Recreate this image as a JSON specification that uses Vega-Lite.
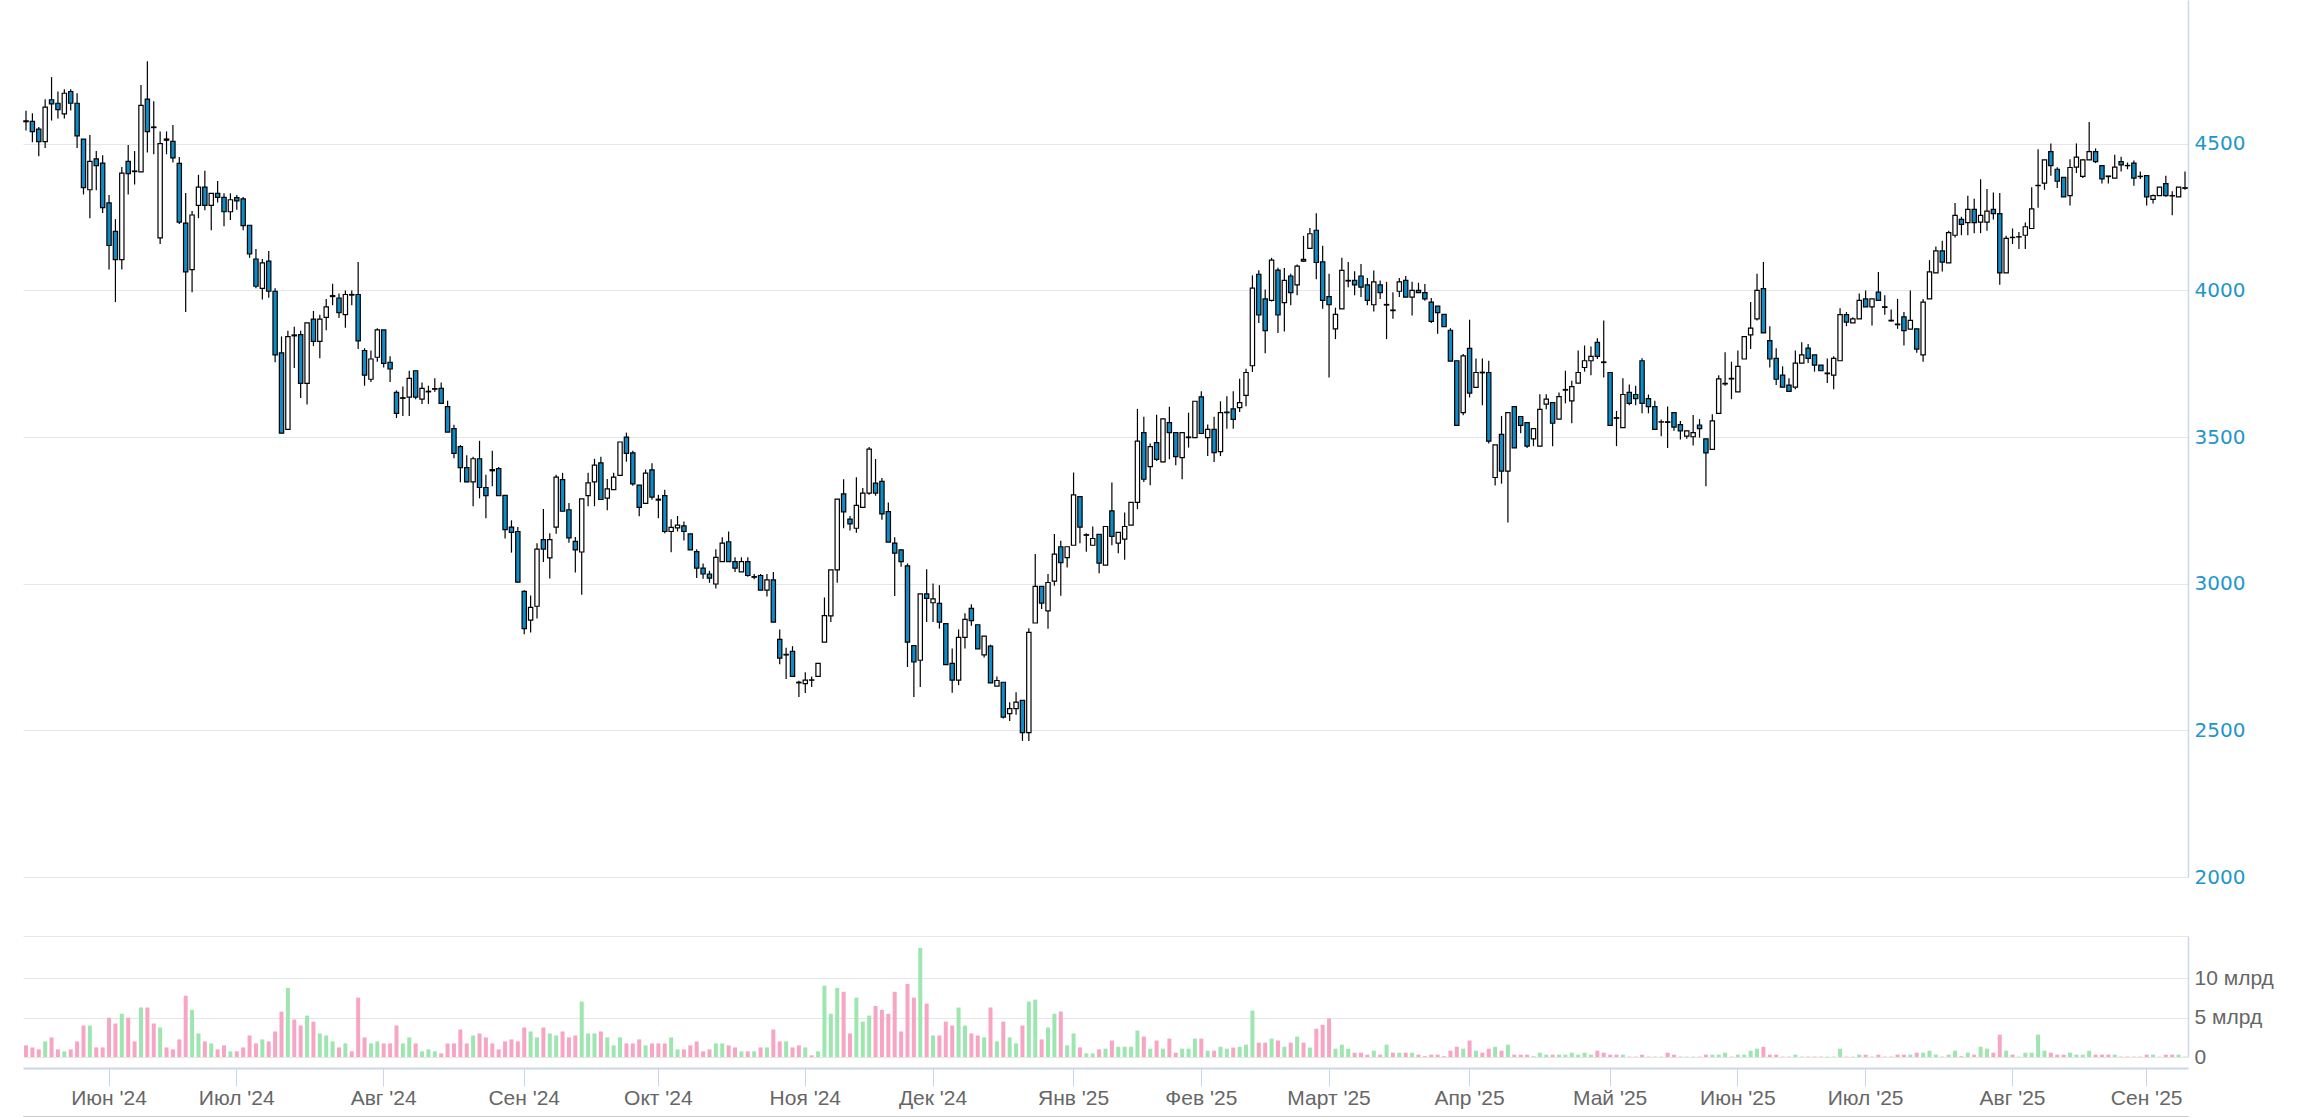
{
"$schema": "https://vega.github.io/schema/vega-lite/v6.json",
"padding": {"left": 22, "top": 0, "right": 0, "bottom": 0},
"background": "white",
"config": {"view": {"stroke": null}},
"bounds": "flush",
"spacing": 59,
"data": {"values": [
{"d":"2024-05-15","o":4578,"h":4612,"l":4545,"c":4575,"v":1.48},
{"d":"2024-05-16","o":4576,"h":4604,"l":4505,"c":4541,"v":1.22},
{"d":"2024-05-17","o":4550,"h":4557,"l":4457,"c":4507,"v":0.97},
{"d":"2024-05-20","o":4507,"h":4652,"l":4485,"c":4625,"v":1.98},
{"d":"2024-05-21","o":4650,"h":4727,"l":4579,"c":4636,"v":2.49},
{"d":"2024-05-22","o":4638,"h":4678,"l":4586,"c":4616,"v":0.97},
{"d":"2024-05-23","o":4602,"h":4686,"l":4586,"c":4672,"v":0.72},
{"d":"2024-05-24","o":4678,"h":4686,"l":4613,"c":4638,"v":0.97},
{"d":"2024-05-27","o":4638,"h":4672,"l":4485,"c":4527,"v":1.98},
{"d":"2024-05-28","o":4516,"h":4516,"l":4327,"c":4350,"v":4.0},
{"d":"2024-05-29","o":4343,"h":4530,"l":4246,"c":4440,"v":4.0},
{"d":"2024-05-30","o":4448,"h":4475,"l":4341,"c":4425,"v":1.22},
{"d":"2024-05-31","o":4434,"h":4461,"l":4264,"c":4282,"v":1.22},
{"d":"2024-06-03","o":4298,"h":4325,"l":4071,"c":4153,"v":5.0},
{"d":"2024-06-04","o":4201,"h":4243,"l":3960,"c":4105,"v":4.26},
{"d":"2024-06-05","o":4105,"h":4421,"l":4071,"c":4400,"v":5.5},
{"d":"2024-06-06","o":4440,"h":4496,"l":4327,"c":4398,"v":5.0},
{"d":"2024-06-07","o":4407,"h":4475,"l":4361,"c":4405,"v":1.98},
{"d":"2024-06-10","o":4404,"h":4700,"l":4404,"c":4631,"v":6.3},
{"d":"2024-06-11","o":4652,"h":4781,"l":4470,"c":4541,"v":6.3},
{"d":"2024-06-12","o":4557,"h":4645,"l":4464,"c":4555,"v":4.26},
{"d":"2024-06-13","o":4179,"h":4542,"l":4158,"c":4500,"v":3.75},
{"d":"2024-06-14","o":4516,"h":4542,"l":4464,"c":4512,"v":1.22},
{"d":"2024-06-17","o":4508,"h":4564,"l":4436,"c":4452,"v":0.97},
{"d":"2024-06-18","o":4433,"h":4455,"l":4226,"c":4233,"v":2.24},
{"d":"2024-06-19","o":4229,"h":4332,"l":3926,"c":4063,"v":7.8},
{"d":"2024-06-20","o":4071,"h":4271,"l":3994,"c":4257,"v":6.0},
{"d":"2024-06-21","o":4290,"h":4394,"l":4246,"c":4352,"v":3.0},
{"d":"2024-06-24","o":4352,"h":4408,"l":4273,"c":4290,"v":1.98},
{"d":"2024-06-25","o":4290,"h":4331,"l":4205,"c":4331,"v":1.73},
{"d":"2024-06-26","o":4331,"h":4373,"l":4300,"c":4317,"v":0.97},
{"d":"2024-06-27","o":4317,"h":4331,"l":4219,"c":4268,"v":1.48},
{"d":"2024-06-28","o":4268,"h":4331,"l":4240,"c":4309,"v":0.72},
{"d":"2024-07-01","o":4316,"h":4325,"l":4275,"c":4305,"v":0.72},
{"d":"2024-07-02","o":4312,"h":4318,"l":4205,"c":4221,"v":1.22},
{"d":"2024-07-03","o":4222,"h":4222,"l":4111,"c":4124,"v":2.74},
{"d":"2024-07-04","o":4107,"h":4141,"l":4007,"c":4014,"v":1.73},
{"d":"2024-07-05","o":4007,"h":4107,"l":3969,"c":4094,"v":2.24},
{"d":"2024-07-08","o":4100,"h":4134,"l":3975,"c":3997,"v":1.98},
{"d":"2024-07-09","o":3997,"h":4007,"l":3755,"c":3780,"v":3.25},
{"d":"2024-07-10","o":3787,"h":3843,"l":3513,"c":3513,"v":5.78},
{"d":"2024-07-11","o":3526,"h":3862,"l":3526,"c":3842,"v":8.8},
{"d":"2024-07-12","o":3848,"h":3876,"l":3735,"c":3845,"v":4.77},
{"d":"2024-07-15","o":3849,"h":3862,"l":3633,"c":3683,"v":4.0},
{"d":"2024-07-16","o":3683,"h":3889,"l":3611,"c":3889,"v":5.27},
{"d":"2024-07-17","o":3902,"h":3930,"l":3810,"c":3826,"v":4.5},
{"d":"2024-07-18","o":3826,"h":3917,"l":3769,"c":3902,"v":3.0},
{"d":"2024-07-19","o":3908,"h":3971,"l":3864,"c":3944,"v":2.74},
{"d":"2024-07-22","o":3979,"h":4023,"l":3949,"c":3982,"v":1.98},
{"d":"2024-07-23","o":3974,"h":3989,"l":3906,"c":3924,"v":1.22},
{"d":"2024-07-24","o":3917,"h":4000,"l":3873,"c":3986,"v":1.73},
{"d":"2024-07-25","o":3986,"h":4000,"l":3949,"c":3984,"v":0.72},
{"d":"2024-07-26","o":3986,"h":4097,"l":3800,"c":3828,"v":7.55},
{"d":"2024-07-29","o":3795,"h":3803,"l":3675,"c":3711,"v":2.49},
{"d":"2024-07-30","o":3697,"h":3795,"l":3688,"c":3766,"v":1.73},
{"d":"2024-07-31","o":3772,"h":3871,"l":3757,"c":3865,"v":1.98},
{"d":"2024-08-01","o":3865,"h":3865,"l":3737,"c":3751,"v":1.73},
{"d":"2024-08-02","o":3755,"h":3775,"l":3688,"c":3732,"v":1.73},
{"d":"2024-08-05","o":3652,"h":3659,"l":3565,"c":3581,"v":4.0},
{"d":"2024-08-06","o":3632,"h":3672,"l":3572,"c":3634,"v":1.73},
{"d":"2024-08-07","o":3636,"h":3726,"l":3572,"c":3700,"v":2.49},
{"d":"2024-08-08","o":3726,"h":3726,"l":3629,"c":3636,"v":1.73},
{"d":"2024-08-09","o":3629,"h":3686,"l":3613,"c":3666,"v":0.72},
{"d":"2024-08-12","o":3654,"h":3675,"l":3613,"c":3656,"v":0.97},
{"d":"2024-08-13","o":3663,"h":3700,"l":3654,"c":3665,"v":0.72},
{"d":"2024-08-14","o":3666,"h":3686,"l":3615,"c":3615,"v":0.46},
{"d":"2024-08-15","o":3604,"h":3624,"l":3517,"c":3517,"v":1.73},
{"d":"2024-08-16","o":3529,"h":3542,"l":3428,"c":3444,"v":1.73},
{"d":"2024-08-19","o":3467,"h":3473,"l":3346,"c":3396,"v":3.5},
{"d":"2024-08-20","o":3396,"h":3438,"l":3346,"c":3347,"v":1.73},
{"d":"2024-08-21","o":3347,"h":3433,"l":3264,"c":3426,"v":2.74},
{"d":"2024-08-22","o":3426,"h":3487,"l":3291,"c":3328,"v":3.0},
{"d":"2024-08-23","o":3328,"h":3371,"l":3223,"c":3300,"v":2.49},
{"d":"2024-08-26","o":3389,"h":3453,"l":3332,"c":3385,"v":1.73},
{"d":"2024-08-27","o":3392,"h":3398,"l":3300,"c":3300,"v":0.97},
{"d":"2024-08-28","o":3301,"h":3301,"l":3154,"c":3184,"v":1.98},
{"d":"2024-08-29","o":3193,"h":3216,"l":3106,"c":3175,"v":2.24},
{"d":"2024-08-30","o":3178,"h":3193,"l":3005,"c":3005,"v":1.98},
{"d":"2024-09-02","o":2974,"h":2978,"l":2828,"c":2847,"v":3.75},
{"d":"2024-09-03","o":2876,"h":2960,"l":2834,"c":2919,"v":3.25},
{"d":"2024-09-04","o":2923,"h":3138,"l":2881,"c":3118,"v":2.49},
{"d":"2024-09-05","o":3150,"h":3255,"l":3074,"c":3118,"v":3.75},
{"d":"2024-09-06","o":3088,"h":3172,"l":3018,"c":3150,"v":3.0},
{"d":"2024-09-09","o":3193,"h":3371,"l":3170,"c":3363,"v":2.74},
{"d":"2024-09-10","o":3355,"h":3378,"l":3247,"c":3247,"v":3.25},
{"d":"2024-09-11","o":3252,"h":3275,"l":3140,"c":3156,"v":2.49},
{"d":"2024-09-12","o":3144,"h":3159,"l":3038,"c":3115,"v":2.74},
{"d":"2024-09-13","o":3108,"h":3289,"l":2962,"c":3289,"v":7.05},
{"d":"2024-09-16","o":3300,"h":3378,"l":3264,"c":3344,"v":3.0},
{"d":"2024-09-17","o":3347,"h":3426,"l":3264,"c":3404,"v":3.0},
{"d":"2024-09-18","o":3412,"h":3433,"l":3287,"c":3287,"v":3.25},
{"d":"2024-09-19","o":3292,"h":3357,"l":3250,"c":3323,"v":2.49},
{"d":"2024-09-20","o":3321,"h":3378,"l":3321,"c":3363,"v":1.48},
{"d":"2024-09-23","o":3369,"h":3483,"l":3369,"c":3483,"v":2.49},
{"d":"2024-09-24","o":3500,"h":3515,"l":3416,"c":3444,"v":1.73},
{"d":"2024-09-25","o":3446,"h":3453,"l":3334,"c":3340,"v":1.73},
{"d":"2024-09-26","o":3336,"h":3336,"l":3230,"c":3260,"v":2.24},
{"d":"2024-09-27","o":3274,"h":3389,"l":3273,"c":3377,"v":1.48},
{"d":"2024-09-30","o":3388,"h":3411,"l":3286,"c":3295,"v":1.73},
{"d":"2024-10-01","o":3288,"h":3303,"l":3223,"c":3285,"v":1.73},
{"d":"2024-10-02","o":3300,"h":3320,"l":3172,"c":3178,"v":1.73},
{"d":"2024-10-03","o":3178,"h":3220,"l":3107,"c":3192,"v":2.49},
{"d":"2024-10-04","o":3190,"h":3231,"l":3178,"c":3200,"v":0.97},
{"d":"2024-10-07","o":3197,"h":3212,"l":3147,"c":3178,"v":0.97},
{"d":"2024-10-08","o":3170,"h":3170,"l":3115,"c":3115,"v":1.48},
{"d":"2024-10-09","o":3109,"h":3117,"l":3019,"c":3053,"v":1.98},
{"d":"2024-10-10","o":3053,"h":3069,"l":3017,"c":3033,"v":0.72},
{"d":"2024-10-11","o":3033,"h":3044,"l":3003,"c":3019,"v":0.97},
{"d":"2024-10-14","o":2999,"h":3117,"l":2984,"c":3090,"v":1.73},
{"d":"2024-10-15","o":3075,"h":3158,"l":3075,"c":3138,"v":1.73},
{"d":"2024-10-16","o":3143,"h":3178,"l":3075,"c":3075,"v":1.48},
{"d":"2024-10-17","o":3075,"h":3090,"l":3040,"c":3053,"v":1.22},
{"d":"2024-10-18","o":3040,"h":3090,"l":3040,"c":3075,"v":0.72},
{"d":"2024-10-21","o":3075,"h":3090,"l":3024,"c":3028,"v":0.72},
{"d":"2024-10-22","o":3022,"h":3033,"l":3015,"c":3024,"v":0.72},
{"d":"2024-10-23","o":3028,"h":3033,"l":2978,"c":2978,"v":1.22},
{"d":"2024-10-24","o":2978,"h":3033,"l":2956,"c":3013,"v":1.22},
{"d":"2024-10-25","o":3013,"h":3040,"l":2869,"c":2869,"v":3.5},
{"d":"2024-10-28","o":2810,"h":2844,"l":2725,"c":2746,"v":1.98},
{"d":"2024-10-29","o":2757,"h":2782,"l":2675,"c":2759,"v":1.98},
{"d":"2024-10-30","o":2769,"h":2787,"l":2684,"c":2684,"v":1.22},
{"d":"2024-10-31","o":2664,"h":2669,"l":2614,"c":2662,"v":1.48},
{"d":"2024-11-01","o":2659,"h":2698,"l":2627,"c":2671,"v":1.22},
{"d":"2024-11-05","o":2672,"h":2684,"l":2648,"c":2671,"v":0.21},
{"d":"2024-11-06","o":2684,"h":2728,"l":2684,"c":2728,"v":0.72},
{"d":"2024-11-07","o":2801,"h":2953,"l":2801,"c":2891,"v":9.07},
{"d":"2024-11-08","o":2890,"h":3047,"l":2869,"c":3047,"v":5.5},
{"d":"2024-11-11","o":3047,"h":3288,"l":3003,"c":3288,"v":8.8},
{"d":"2024-11-12","o":3306,"h":3356,"l":3189,"c":3245,"v":8.3},
{"d":"2024-11-13","o":3220,"h":3231,"l":3181,"c":3204,"v":3.0},
{"d":"2024-11-14","o":3189,"h":3363,"l":3174,"c":3267,"v":7.55},
{"d":"2024-11-15","o":3260,"h":3326,"l":3260,"c":3309,"v":4.5},
{"d":"2024-11-18","o":3309,"h":3466,"l":3303,"c":3459,"v":5.27},
{"d":"2024-11-19","o":3343,"h":3425,"l":3300,"c":3309,"v":6.5},
{"d":"2024-11-20","o":3349,"h":3360,"l":3218,"c":3238,"v":6.0},
{"d":"2024-11-21","o":3246,"h":3277,"l":3142,"c":3142,"v":5.5},
{"d":"2024-11-22","o":3138,"h":3158,"l":2958,"c":3104,"v":8.3},
{"d":"2024-11-25","o":3115,"h":3117,"l":3058,"c":3075,"v":3.25},
{"d":"2024-11-26","o":3061,"h":3069,"l":2716,"c":2801,"v":9.3},
{"d":"2024-11-27","o":2789,"h":2789,"l":2614,"c":2733,"v":7.55},
{"d":"2024-11-28","o":2739,"h":2965,"l":2648,"c":2965,"v":13.9},
{"d":"2024-11-29","o":2965,"h":3049,"l":2869,"c":2950,"v":6.8},
{"d":"2024-12-02","o":2935,"h":3001,"l":2869,"c":2948,"v":2.74},
{"d":"2024-12-03","o":2933,"h":2995,"l":2847,"c":2869,"v":2.74},
{"d":"2024-12-04","o":2864,"h":2864,"l":2724,"c":2724,"v":4.5},
{"d":"2024-12-05","o":2728,"h":2779,"l":2628,"c":2671,"v":4.0},
{"d":"2024-12-06","o":2671,"h":2844,"l":2654,"c":2817,"v":6.3},
{"d":"2024-12-09","o":2817,"h":2899,"l":2779,"c":2878,"v":4.0},
{"d":"2024-12-10","o":2916,"h":2930,"l":2857,"c":2874,"v":3.0},
{"d":"2024-12-11","o":2860,"h":2860,"l":2778,"c":2778,"v":2.74},
{"d":"2024-12-12","o":2757,"h":2821,"l":2748,"c":2821,"v":2.49},
{"d":"2024-12-13","o":2787,"h":2792,"l":2662,"c":2662,"v":6.3},
{"d":"2024-12-16","o":2651,"h":2684,"l":2651,"c":2670,"v":1.98},
{"d":"2024-12-17","o":2664,"h":2664,"l":2540,"c":2545,"v":4.5},
{"d":"2024-12-18","o":2557,"h":2596,"l":2532,"c":2574,"v":2.49},
{"d":"2024-12-19","o":2574,"h":2630,"l":2553,"c":2596,"v":1.73},
{"d":"2024-12-20","o":2602,"h":2602,"l":2464,"c":2492,"v":4.0},
{"d":"2024-12-23","o":2492,"h":2848,"l":2464,"c":2834,"v":7.05},
{"d":"2024-12-24","o":2866,"h":3101,"l":2866,"c":2991,"v":7.3},
{"d":"2024-12-25","o":2991,"h":2991,"l":2914,"c":2934,"v":2.24},
{"d":"2024-12-26","o":2907,"h":3033,"l":2846,"c":3004,"v":3.75},
{"d":"2024-12-27","o":3009,"h":3169,"l":2993,"c":3101,"v":5.5},
{"d":"2024-12-30","o":3126,"h":3146,"l":2959,"c":3072,"v":5.78},
{"d":"2024-12-31","o":3089,"h":3126,"l":3055,"c":3126,"v":1.48},
{"d":"2025-01-03","o":3131,"h":3379,"l":3131,"c":3303,"v":3.0},
{"d":"2025-01-06","o":3297,"h":3297,"l":3138,"c":3193,"v":1.22},
{"d":"2025-01-08","o":3165,"h":3172,"l":3109,"c":3167,"v":0.46},
{"d":"2025-01-09","o":3131,"h":3195,"l":3131,"c":3154,"v":0.46},
{"d":"2025-01-10","o":3168,"h":3168,"l":3036,"c":3070,"v":0.97},
{"d":"2025-01-13","o":3063,"h":3195,"l":3063,"c":3195,"v":1.06},
{"d":"2025-01-14","o":3248,"h":3345,"l":3131,"c":3161,"v":2.1},
{"d":"2025-01-15","o":3138,"h":3175,"l":3104,"c":3175,"v":1.3},
{"d":"2025-01-16","o":3152,"h":3243,"l":3082,"c":3195,"v":1.3},
{"d":"2025-01-17","o":3200,"h":3277,"l":3200,"c":3277,"v":1.3},
{"d":"2025-01-20","o":3277,"h":3596,"l":3254,"c":3486,"v":3.36},
{"d":"2025-01-21","o":3515,"h":3569,"l":3347,"c":3356,"v":2.6},
{"d":"2025-01-22","o":3399,"h":3478,"l":3336,"c":3467,"v":1.06},
{"d":"2025-01-23","o":3481,"h":3576,"l":3418,"c":3424,"v":2.1},
{"d":"2025-01-24","o":3415,"h":3562,"l":3413,"c":3562,"v":1.06},
{"d":"2025-01-27","o":3549,"h":3603,"l":3424,"c":3515,"v":2.34},
{"d":"2025-01-28","o":3515,"h":3515,"l":3404,"c":3433,"v":0.55},
{"d":"2025-01-29","o":3430,"h":3515,"l":3356,"c":3515,"v":1.06},
{"d":"2025-01-30","o":3498,"h":3583,"l":3464,"c":3500,"v":1.06},
{"d":"2025-01-31","o":3498,"h":3622,"l":3498,"c":3622,"v":2.34},
{"d":"2025-02-03","o":3637,"h":3656,"l":3512,"c":3512,"v":2.34},
{"d":"2025-02-04","o":3498,"h":3543,"l":3435,"c":3526,"v":0.8},
{"d":"2025-02-05","o":3526,"h":3569,"l":3415,"c":3447,"v":0.8},
{"d":"2025-02-06","o":3450,"h":3622,"l":3435,"c":3583,"v":1.3},
{"d":"2025-02-07","o":3583,"h":3639,"l":3528,"c":3585,"v":1.06},
{"d":"2025-02-10","o":3596,"h":3656,"l":3528,"c":3560,"v":1.2},
{"d":"2025-02-11","o":3600,"h":3699,"l":3585,"c":3617,"v":1.3},
{"d":"2025-02-12","o":3642,"h":3733,"l":3605,"c":3720,"v":1.57},
{"d":"2025-02-13","o":3743,"h":4051,"l":3722,"c":4008,"v":5.9},
{"d":"2025-02-14","o":4055,"h":4069,"l":3889,"c":3916,"v":1.83},
{"d":"2025-02-17","o":3971,"h":4003,"l":3786,"c":3863,"v":1.83},
{"d":"2025-02-18","o":3966,"h":4111,"l":3962,"c":4103,"v":2.34},
{"d":"2025-02-19","o":4069,"h":4077,"l":3855,"c":3916,"v":2.1},
{"d":"2025-02-20","o":3958,"h":4076,"l":3860,"c":4034,"v":1.3},
{"d":"2025-02-21","o":4049,"h":4057,"l":3949,"c":3992,"v":1.83},
{"d":"2025-02-24","o":4019,"h":4088,"l":3983,"c":4083,"v":2.6},
{"d":"2025-02-25","o":4106,"h":4186,"l":4097,"c":4100,"v":1.83},
{"d":"2025-02-26","o":4143,"h":4213,"l":4143,"c":4193,"v":1.2},
{"d":"2025-02-27","o":4205,"h":4263,"l":4038,"c":4095,"v":3.6},
{"d":"2025-02-28","o":4097,"h":4152,"l":3937,"c":3966,"v":4.1},
{"d":"2025-03-01","o":3979,"h":4057,"l":3703,"c":3951,"v":4.9},
{"d":"2025-03-03","o":3869,"h":3941,"l":3834,"c":3918,"v":1.06},
{"d":"2025-03-04","o":3937,"h":4111,"l":3937,"c":4068,"v":1.57},
{"d":"2025-03-05","o":4032,"h":4097,"l":4011,"c":4034,"v":1.06},
{"d":"2025-03-06","o":4034,"h":4065,"l":3983,"c":4019,"v":0.55},
{"d":"2025-03-07","o":4049,"h":4090,"l":3977,"c":4011,"v":0.55},
{"d":"2025-03-10","o":4019,"h":4042,"l":3949,"c":3966,"v":0.3},
{"d":"2025-03-11","o":3951,"h":4068,"l":3928,"c":4029,"v":0.8},
{"d":"2025-03-12","o":4019,"h":4034,"l":3971,"c":3992,"v":0.3},
{"d":"2025-03-13","o":3950,"h":4029,"l":3834,"c":3952,"v":1.57},
{"d":"2025-03-14","o":3933,"h":3994,"l":3903,"c":3931,"v":0.55},
{"d":"2025-03-17","o":3997,"h":4042,"l":3977,"c":4029,"v":0.55},
{"d":"2025-03-18","o":4034,"h":4049,"l":3977,"c":3977,"v":0.55},
{"d":"2025-03-19","o":3977,"h":4029,"l":3914,"c":4000,"v":0.55},
{"d":"2025-03-20","o":4000,"h":4026,"l":3992,"c":3992,"v":0.3},
{"d":"2025-03-21","o":3992,"h":4022,"l":3965,"c":3971,"v":0.1},
{"d":"2025-03-24","o":3960,"h":3974,"l":3889,"c":3894,"v":0.3},
{"d":"2025-03-25","o":3946,"h":3946,"l":3852,"c":3924,"v":0.3},
{"d":"2025-03-26","o":3918,"h":3918,"l":3876,"c":3876,"v":0.1},
{"d":"2025-03-27","o":3864,"h":3871,"l":3759,"c":3759,"v":0.8},
{"d":"2025-03-28","o":3760,"h":3760,"l":3540,"c":3540,"v":1.3},
{"d":"2025-03-31","o":3583,"h":3783,"l":3574,"c":3777,"v":1.06},
{"d":"2025-04-01","o":3802,"h":3900,"l":3635,"c":3650,"v":2.1},
{"d":"2025-04-02","o":3669,"h":3768,"l":3669,"c":3720,"v":0.8},
{"d":"2025-04-03","o":3721,"h":3768,"l":3608,"c":3719,"v":0.55},
{"d":"2025-04-04","o":3720,"h":3760,"l":3478,"c":3486,"v":1.06},
{"d":"2025-04-07","o":3362,"h":3473,"l":3335,"c":3473,"v":1.3},
{"d":"2025-04-08","o":3509,"h":3572,"l":3341,"c":3384,"v":0.8},
{"d":"2025-04-09","o":3384,"h":3583,"l":3209,"c":3583,"v":1.57},
{"d":"2025-04-10","o":3604,"h":3604,"l":3463,"c":3463,"v":0.3},
{"d":"2025-04-11","o":3570,"h":3570,"l":3513,"c":3540,"v":0.3},
{"d":"2025-04-14","o":3549,"h":3549,"l":3463,"c":3469,"v":0.3},
{"d":"2025-04-15","o":3494,"h":3529,"l":3469,"c":3529,"v":0.1},
{"d":"2025-04-16","o":3469,"h":3646,"l":3469,"c":3594,"v":0.55},
{"d":"2025-04-17","o":3612,"h":3646,"l":3595,"c":3629,"v":0.3},
{"d":"2025-04-18","o":3617,"h":3617,"l":3469,"c":3547,"v":0.3},
{"d":"2025-04-21","o":3561,"h":3652,"l":3561,"c":3638,"v":0.3},
{"d":"2025-04-22","o":3660,"h":3726,"l":3615,"c":3662,"v":0.3},
{"d":"2025-04-23","o":3623,"h":3692,"l":3547,"c":3672,"v":0.55},
{"d":"2025-04-24","o":3684,"h":3795,"l":3684,"c":3720,"v":0.3},
{"d":"2025-04-25","o":3737,"h":3812,"l":3723,"c":3760,"v":0.55},
{"d":"2025-04-28","o":3760,"h":3809,"l":3711,"c":3775,"v":0.3},
{"d":"2025-04-29","o":3823,"h":3837,"l":3766,"c":3775,"v":0.8},
{"d":"2025-04-30","o":3756,"h":3897,"l":3703,"c":3754,"v":0.55},
{"d":"2025-05-05","o":3720,"h":3720,"l":3540,"c":3540,"v":0.3},
{"d":"2025-05-06","o":3566,"h":3589,"l":3469,"c":3564,"v":0.3},
{"d":"2025-05-07","o":3532,"h":3700,"l":3532,"c":3645,"v":0.3},
{"d":"2025-05-08","o":3652,"h":3679,"l":3608,"c":3615,"v":0.05},
{"d":"2025-05-09","o":3645,"h":3675,"l":3608,"c":3631,"v":0.05},
{"d":"2025-05-12","o":3760,"h":3769,"l":3581,"c":3615,"v":0.3},
{"d":"2025-05-13","o":3631,"h":3645,"l":3581,"c":3604,"v":0.05},
{"d":"2025-05-14","o":3604,"h":3624,"l":3526,"c":3526,"v":0.05},
{"d":"2025-05-15","o":3551,"h":3560,"l":3503,"c":3552,"v":0.05},
{"d":"2025-05-16","o":3552,"h":3604,"l":3463,"c":3550,"v":0.55},
{"d":"2025-05-19","o":3583,"h":3583,"l":3521,"c":3534,"v":0.3},
{"d":"2025-05-20","o":3542,"h":3555,"l":3492,"c":3521,"v":0.05},
{"d":"2025-05-21","o":3503,"h":3521,"l":3494,"c":3521,"v":0.05},
{"d":"2025-05-22","o":3501,"h":3575,"l":3471,"c":3515,"v":0.05},
{"d":"2025-05-23","o":3541,"h":3561,"l":3498,"c":3529,"v":0.05},
{"d":"2025-05-26","o":3494,"h":3494,"l":3332,"c":3446,"v":0.3},
{"d":"2025-05-27","o":3458,"h":3578,"l":3458,"c":3555,"v":0.3},
{"d":"2025-05-28","o":3581,"h":3711,"l":3581,"c":3698,"v":0.3},
{"d":"2025-05-29","o":3681,"h":3789,"l":3675,"c":3683,"v":0.55},
{"d":"2025-05-30","o":3700,"h":3757,"l":3629,"c":3698,"v":0.05},
{"d":"2025-06-02","o":3654,"h":3795,"l":3654,"c":3741,"v":0.3},
{"d":"2025-06-03","o":3766,"h":3842,"l":3766,"c":3842,"v":0.3},
{"d":"2025-06-04","o":3848,"h":3960,"l":3800,"c":3871,"v":0.8},
{"d":"2025-06-05","o":3903,"h":4057,"l":3897,"c":4000,"v":1.06},
{"d":"2025-06-06","o":4006,"h":4097,"l":3855,"c":3855,"v":1.3},
{"d":"2025-06-09","o":3829,"h":3878,"l":3737,"c":3766,"v":0.3},
{"d":"2025-06-10","o":3768,"h":3803,"l":3677,"c":3697,"v":0.3},
{"d":"2025-06-11","o":3711,"h":3741,"l":3670,"c":3670,"v":0.05},
{"d":"2025-06-13","o":3677,"h":3700,"l":3656,"c":3656,"v":0.05},
{"d":"2025-06-16","o":3670,"h":3795,"l":3663,"c":3752,"v":0.3},
{"d":"2025-06-17","o":3752,"h":3823,"l":3752,"c":3780,"v":0.05},
{"d":"2025-06-18","o":3803,"h":3817,"l":3752,"c":3768,"v":0.05},
{"d":"2025-06-19","o":3780,"h":3780,"l":3723,"c":3745,"v":0.05},
{"d":"2025-06-20","o":3745,"h":3745,"l":3726,"c":3726,"v":0.05},
{"d":"2025-06-23","o":3716,"h":3768,"l":3684,"c":3718,"v":0.05},
{"d":"2025-06-24","o":3711,"h":3775,"l":3663,"c":3768,"v":0.05},
{"d":"2025-06-25","o":3760,"h":3939,"l":3760,"c":3917,"v":1.06},
{"d":"2025-06-26","o":3917,"h":3926,"l":3878,"c":3892,"v":0.05},
{"d":"2025-06-27","o":3889,"h":3908,"l":3889,"c":3903,"v":0.05},
{"d":"2025-06-30","o":3903,"h":3989,"l":3903,"c":3966,"v":0.3},
{"d":"2025-07-01","o":3971,"h":4000,"l":3944,"c":3944,"v":0.3},
{"d":"2025-07-02","o":3944,"h":3971,"l":3880,"c":3971,"v":0.05},
{"d":"2025-07-03","o":3994,"h":4063,"l":3966,"c":3966,"v":0.3},
{"d":"2025-07-04","o":3944,"h":3983,"l":3917,"c":3942,"v":0.05},
{"d":"2025-07-07","o":3898,"h":3935,"l":3894,"c":3896,"v":0.05},
{"d":"2025-07-08","o":3885,"h":3971,"l":3869,"c":3883,"v":0.3},
{"d":"2025-07-09","o":3910,"h":3926,"l":3812,"c":3863,"v":0.3},
{"d":"2025-07-10","o":3868,"h":4000,"l":3868,"c":3898,"v":0.3},
{"d":"2025-07-11","o":3869,"h":3869,"l":3787,"c":3800,"v":0.55},
{"d":"2025-07-14","o":3780,"h":3971,"l":3757,"c":3960,"v":0.55},
{"d":"2025-07-15","o":3971,"h":4103,"l":3971,"c":4063,"v":0.8},
{"d":"2025-07-16","o":4060,"h":4150,"l":4060,"c":4135,"v":0.3},
{"d":"2025-07-17","o":4135,"h":4169,"l":4064,"c":4096,"v":0.05},
{"d":"2025-07-18","o":4094,"h":4203,"l":4094,"c":4197,"v":0.3},
{"d":"2025-07-21","o":4188,"h":4298,"l":4180,"c":4256,"v":0.8},
{"d":"2025-07-22","o":4242,"h":4251,"l":4188,"c":4225,"v":0.1},
{"d":"2025-07-23","o":4231,"h":4323,"l":4188,"c":4276,"v":0.55},
{"d":"2025-07-24","o":4276,"h":4312,"l":4195,"c":4231,"v":0.3},
{"d":"2025-07-25","o":4233,"h":4379,"l":4195,"c":4256,"v":1.3},
{"d":"2025-07-28","o":4233,"h":4346,"l":4203,"c":4270,"v":1.06},
{"d":"2025-07-29","o":4276,"h":4334,"l":4242,"c":4262,"v":0.55},
{"d":"2025-07-30","o":4262,"h":4332,"l":4019,"c":4060,"v":2.85},
{"d":"2025-07-31","o":4060,"h":4186,"l":4060,"c":4177,"v":0.8},
{"d":"2025-08-01","o":4181,"h":4211,"l":4158,"c":4180,"v":0.3},
{"d":"2025-08-04","o":4182,"h":4199,"l":4141,"c":4183,"v":0.05},
{"d":"2025-08-05","o":4188,"h":4231,"l":4141,"c":4217,"v":0.55},
{"d":"2025-08-06","o":4211,"h":4352,"l":4211,"c":4278,"v":0.55},
{"d":"2025-08-07","o":4357,"h":4481,"l":4282,"c":4358,"v":2.85},
{"d":"2025-08-08","o":4366,"h":4445,"l":4343,"c":4445,"v":0.8},
{"d":"2025-08-11","o":4473,"h":4501,"l":4391,"c":4425,"v":0.55},
{"d":"2025-08-12","o":4413,"h":4420,"l":4349,"c":4372,"v":0.3},
{"d":"2025-08-13","o":4385,"h":4385,"l":4319,"c":4319,"v":0.3},
{"d":"2025-08-14","o":4323,"h":4447,"l":4289,"c":4419,"v":0.55},
{"d":"2025-08-15","o":4420,"h":4501,"l":4400,"c":4454,"v":0.3},
{"d":"2025-08-18","o":4389,"h":4447,"l":4383,"c":4445,"v":0.3},
{"d":"2025-08-19","o":4445,"h":4574,"l":4445,"c":4473,"v":0.8},
{"d":"2025-08-20","o":4473,"h":4484,"l":4434,"c":4439,"v":0.3},
{"d":"2025-08-21","o":4425,"h":4425,"l":4364,"c":4380,"v":0.3},
{"d":"2025-08-22","o":4390,"h":4390,"l":4364,"c":4388,"v":0.3},
{"d":"2025-08-25","o":4383,"h":4462,"l":4383,"c":4420,"v":0.3},
{"d":"2025-08-26","o":4439,"h":4456,"l":4405,"c":4428,"v":0.05},
{"d":"2025-08-27","o":4426,"h":4436,"l":4413,"c":4425,"v":0.05},
{"d":"2025-08-28","o":4434,"h":4443,"l":4357,"c":4383,"v":0.05},
{"d":"2025-08-29","o":4389,"h":4405,"l":4380,"c":4388,"v":0.05},
{"d":"2025-09-01","o":4391,"h":4391,"l":4289,"c":4319,"v":0.3},
{"d":"2025-09-02","o":4310,"h":4327,"l":4296,"c":4323,"v":0.3},
{"d":"2025-09-03","o":4323,"h":4352,"l":4323,"c":4352,"v":0.05},
{"d":"2025-09-04","o":4364,"h":4391,"l":4319,"c":4323,"v":0.3},
{"d":"2025-09-05","o":4323,"h":4338,"l":4256,"c":4322,"v":0.3},
{"d":"2025-09-08","o":4319,"h":4352,"l":4319,"c":4352,"v":0.3},
{"d":"2025-09-09","o":4348,"h":4405,"l":4343,"c":4350,"v":0.05}
]},
"vconcat": [
{
 "width": 2165, "height": 877,
 "encoding": {"x": {"field": "d", "type": "ordinal", "sort": null, "scale": {"paddingInner": 0.3, "paddingOuter": 0.12}, "axis": null}},
 "layer": [
  {"mark": {"type": "rule", "color": "#000000", "strokeWidth": 1.2},
   "encoding": {
    "y": {"field": "l", "type": "quantitative", "scale": {"domain": [2000, 4990], "nice": false, "zero": false},
     "axis": {"orient": "right", "values": [2000, 2500, 3000, 3500, 4000, 4500], "format": "d", "grid": true, "gridColor": "#e6e6e6", "gridWidth": 1, "domain": true, "domainColor": "#ccd6eb", "domainWidth": 1.5, "ticks": false, "labelPadding": 6, "labelColor": "#2196c9", "labelFont": "DejaVu Sans", "labelFontSize": 20, "title": null}},
    "y2": {"field": "h"}}},
  {"mark": {"type": "bar", "width": 4.3, "stroke": "#000000", "strokeWidth": 1.2},
   "encoding": {
    "y": {"field": "o", "type": "quantitative"},
    "y2": {"field": "c"},
    "fill": {"condition": {"test": "datum.c >= datum.o", "value": "#ffffff"}, "value": "#0f8cc8"}}}
 ]
},
{
 "width": 2165, "height": 121,
 "mark": {"type": "bar", "width": 4},
 "encoding": {
  "x": {"field": "d", "type": "ordinal", "sort": null, "scale": {"paddingInner": 0.3, "paddingOuter": 0.12},
   "axis": {"orient": "bottom", "offset": 11, "values": ["2024-06-03","2024-07-01","2024-08-01","2024-09-02","2024-10-01","2024-11-01","2024-12-02","2025-01-03","2025-02-03","2025-03-01","2025-04-01","2025-05-05","2025-06-02","2025-07-01","2025-08-01","2025-09-01"],
    "labelExpr": "['Янв','Фев','Март','Апр','Май','Июн','Июл','Авг','Сен','Окт','Ноя','Дек'][toNumber(substring(datum.value,5,7))-1] + \" '\" + substring(datum.value,2,4)",
    "domainColor": "#ccd6eb", "domainWidth": 2, "tickColor": "#ccd6eb", "tickSize": 18, "tickWidth": 1, "labelPadding": 1, "labelAngle": 0, "labelColor": "#666666", "labelFont": "Liberation Sans", "labelFontSize": 21, "labelOverlap": false, "grid": false, "title": null}},
  "y": {"field": "v", "type": "quantitative", "scale": {"domain": [0, 15.4], "nice": false},
   "axis": {"orient": "right", "values": [0, 5, 10, 15.4], "grid": true, "gridColor": "#e6e6e6", "domain": true, "domainColor": "#ccd6eb", "domainWidth": 1.5, "ticks": false, "labelPadding": 6,
    "labelExpr": "datum.value == 0 ? '0' : (datum.value > 12 ? '' : datum.value + ' млрд')",
    "labelColor": "#666666", "labelFont": "Liberation Sans", "labelFontSize": 21, "title": null}},
  "color": {"condition": {"test": "datum.c >= datum.o", "value": "#9de6b0"}, "value": "#f8a5c4"}
 }
},
{
 "width": 2165, "height": 1,
 "data": {"values": [{"k": 1}]},
 "view": {"stroke": "#cccccc", "strokeWidth": 1},
 "mark": {"type": "rule", "opacity": 0},
 "encoding": {}
}
]
}
